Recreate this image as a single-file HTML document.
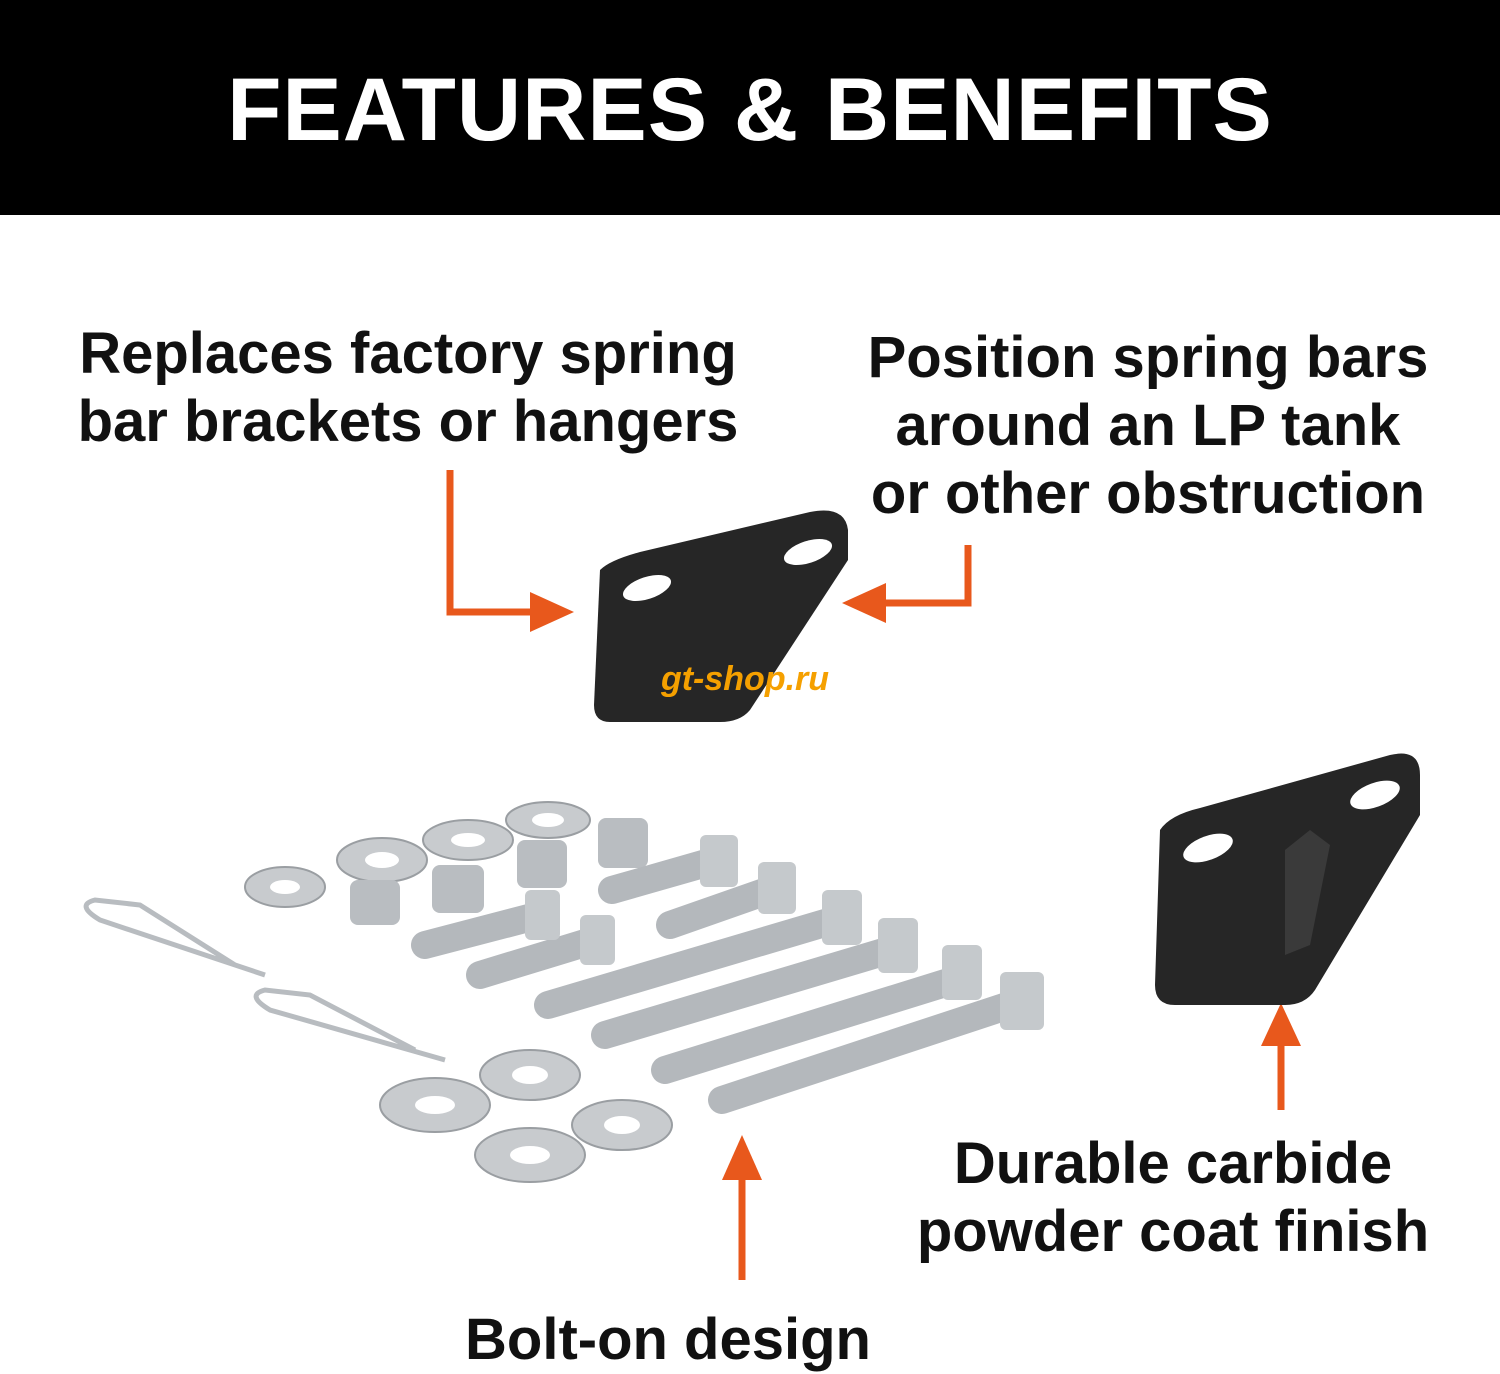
<!DOCTYPE html>
<html><head><meta charset="utf-8"><style>
html,body{margin:0;padding:0;background:#fff;}
body{width:1500px;height:1350px;position:relative;overflow:hidden;font-family:"Liberation Sans",sans-serif;}
.hdr{position:absolute;left:0;top:0;width:1500px;height:215px;background:#000;}
.title{position:absolute;left:0;width:1500px;top:54px;text-align:center;color:#fff;font-weight:bold;font-size:89px;line-height:110px;letter-spacing:1px;}
.t{position:absolute;font-weight:bold;color:#111;font-size:58px;line-height:68px;text-align:center;white-space:nowrap;}
</style></head><body>
<div class="hdr"></div>
<div class="title">FEATURES &amp; BENEFITS</div>
<div class="t" style="left:20px;width:776px;top:320px;">Replaces factory spring<br>bar brackets or hangers</div>
<div class="t" style="left:800px;width:696px;top:324px;">Position spring bars<br>around an LP tank<br>or other obstruction</div>
<div class="t" style="left:850px;width:646px;top:1130px;">Durable carbide<br>powder coat finish</div>
<div class="t" style="left:330px;width:676px;top:1306px;">Bolt-on design</div>
<svg width="1500" height="1350" style="position:absolute;left:0;top:0">
<g fill="none" stroke="#e8581c" stroke-width="7">
<polyline points="450,470 450,612 540,612"/>
<polyline points="968,545 968,603 878,603"/>
<line x1="742" y1="1280" x2="742" y2="1175"/>
<line x1="1281" y1="1110" x2="1281" y2="1040"/>
</g>
<g fill="#e8581c">
<polygon points="574,612 530,592 530,632"/>
<polygon points="842,603 886,583 886,623"/>
<polygon points="742,1135 722,1180 762,1180"/>
<polygon points="1281,1003 1261,1046 1301,1046"/>
</g>
<path d="M600,570 Q610,560 640,552 L810,512 Q845,505 848,530 L848,560 L750,710 Q740,722 720,722 L610,722 Q594,722 594,705 Z" fill="#262626"/>
<ellipse cx="647" cy="588" rx="25" ry="11" transform="rotate(-18 647 588)" fill="#fff"/>
<ellipse cx="808" cy="552" rx="25" ry="11" transform="rotate(-18 808 552)" fill="#fff"/>
<text x="745" y="690" text-anchor="middle" font-family="Liberation Sans" font-weight="bold" font-style="italic" font-size="34" fill="#f5a000">gt-shop.ru</text>
<path d="M1160,830 Q1170,815 1200,808 L1390,755 Q1420,748 1420,775 L1420,815 L1315,990 Q1305,1005 1285,1005 L1175,1005 Q1155,1005 1155,985 Z" fill="#262626"/>
<ellipse cx="1208" cy="848" rx="26" ry="12" transform="rotate(-20 1208 848)" fill="#fff"/>
<ellipse cx="1375" cy="795" rx="26" ry="12" transform="rotate(-20 1375 795)" fill="#fff"/>
<path d="M1285,850 L1310,830 L1330,845 L1310,945 L1285,955 Z" fill="#3a3a3a"/>
<g fill="#c8cbce" stroke="#9a9ea2" stroke-width="2">
<ellipse cx="285" cy="887" rx="40" ry="20"/><ellipse cx="382" cy="860" rx="45" ry="22"/>
<ellipse cx="468" cy="840" rx="45" ry="20"/><ellipse cx="548" cy="820" rx="42" ry="18"/>
<ellipse cx="435" cy="1105" rx="55" ry="27"/><ellipse cx="530" cy="1075" rx="50" ry="25"/>
<ellipse cx="530" cy="1155" rx="55" ry="27"/><ellipse cx="622" cy="1125" rx="50" ry="25"/>
</g>
<g fill="#fff"><ellipse cx="285" cy="887" rx="15" ry="7"/><ellipse cx="382" cy="860" rx="17" ry="8"/><ellipse cx="468" cy="840" rx="17" ry="7"/><ellipse cx="548" cy="820" rx="16" ry="7"/>
<ellipse cx="435" cy="1105" rx="20" ry="9"/><ellipse cx="530" cy="1075" rx="18" ry="9"/><ellipse cx="530" cy="1155" rx="20" ry="9"/><ellipse cx="622" cy="1125" rx="18" ry="9"/></g>
<g fill="#b9bdc1"><rect x="350" y="880" width="50" height="45" rx="8"/><rect x="432" y="865" width="52" height="48" rx="8"/><rect x="517" y="840" width="50" height="48" rx="8"/><rect x="598" y="818" width="50" height="50" rx="8"/></g>
<g stroke="#b4b8bc" stroke-width="28" stroke-linecap="round">
<line x1="425" y1="945" x2="540" y2="915"/><line x1="480" y1="975" x2="595" y2="940"/>
<line x1="612" y1="890" x2="710" y2="862"/><line x1="670" y1="925" x2="770" y2="890"/>
<line x1="548" y1="1005" x2="835" y2="920"/><line x1="605" y1="1035" x2="890" y2="950"/>
<line x1="665" y1="1070" x2="955" y2="980"/><line x1="722" y1="1100" x2="1010" y2="1005"/>
</g>
<g fill="#c5c9cc"><rect x="525" y="890" width="35" height="50" rx="6"/><rect x="580" y="915" width="35" height="50" rx="6"/><rect x="700" y="835" width="38" height="52" rx="6"/><rect x="758" y="862" width="38" height="52" rx="6"/>
<rect x="822" y="890" width="40" height="55" rx="6"/><rect x="878" y="918" width="40" height="55" rx="6"/><rect x="942" y="945" width="40" height="55" rx="6"/><rect x="1000" y="972" width="44" height="58" rx="6"/></g>
<g fill="none" stroke="#b8bcc0" stroke-width="5">
<path d="M265,975 L100,920 Q75,905 95,900 L140,905 L235,965"/>
<path d="M445,1060 L270,1010 Q245,995 265,990 L310,995 L415,1050"/>
</g>
</svg>
</body></html>
